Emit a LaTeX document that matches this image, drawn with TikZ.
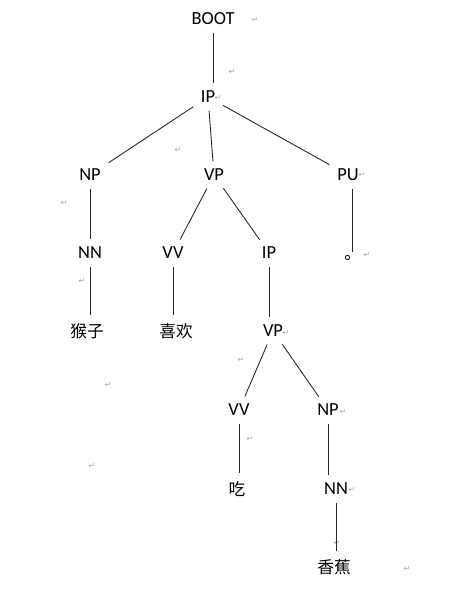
\documentclass[tikz,border=0pt]{standalone}
\usepackage{fontspec}
\setmainfont{Carlito}
\newfontfamily\cjkfont{Noto Sans CJK SC}
\newfontfamily\markfont{DejaVu Sans}
\usetikzlibrary{positioning}

\begin{document}
\begin{tikzpicture}[x=0.02cm, y=-0.02cm,
  tag/.style={font=\fontsize{10.5}{12}\selectfont, inner sep=3pt, text height=0.63em, text depth=0pt},
  word/.style={font=\cjkfont\fontsize{9.5}{11}\selectfont, inner sep=3pt},
  pmark/.style={font=\markfont\fontsize{4.5}{5}\selectfont, text=gray!70, inner sep=0pt},
  branch/.style={draw=black!85, line width=0.5pt, shorten >=1.5, shorten <=1.5},
]
  \useasboundingbox (0,0) rectangle (473,591);

  % Phrase labels
  \node[tag] (boot) at (213,19) {BOOT};
  \node[tag] (ip) at (208,97) {IP};
  \node[tag] (np) at (90,175) {NP};
  \node[tag] (vp) at (214,175) {VP};
  \node[tag] (pu) at (348,175) {PU};
  \node[tag] (nn) at (90,253) {NN};
  \node[tag] (vv) at (173,253) {VV};
  \node[tag] (ipb) at (269,253) {IP};
  \node[tag] (vpb) at (273,331) {VP};
  \node[tag] (vvb) at (239,410) {VV};
  \node[tag] (npb) at (328,410) {NP};
  \node[tag] (nnb) at (336,489) {NN};

  % Words
  \node[word] (houzi) at (87,331) {猴子};
  \node[word] (xihuan) at (176,331) {喜欢};
  \node[word, anchor=base west, inner sep=0pt] (juhao) at (344,259) {。};
  \node[word] (chi) at (237,489) {吃};
  \node[word] (xiangjiao) at (334,567) {香蕉};

  % Paragraph marks
  \foreach \x/\y [count=\i] in {255/20, 232/72, 218/98, 178/150, 362/175, 64/203, 82/281,
      367/255, 286/333, 241/360, 108/385, 250/439, 343/412, 352/490, 337/543, 407/569, 92/466}
    \node[pmark] (ret\i) at (\x,\y) {↵};

  % Branches
  \draw[branch] (boot) -- (boot |- ip.north);
  \draw[branch] (ip) -- (np);
  \draw[branch] (ip) -- (vp);
  \draw[branch] (ip) -- (pu);
  \draw[branch] (np) -- (np |- nn.north);
  \draw[branch] (nn) -- (nn |- houzi.north);
  \draw[branch] (vp) -- (vv);
  \draw[branch] (vp) -- (ipb);
  \draw[branch] (vv) -- (vv |- xihuan.north);
  \draw[branch] (juhao.north |- pu.south) -- (juhao.north);
  \draw[branch] (ipb) -- (ipb |- vpb.north);
  \draw[branch] (vpb) -- (vvb);
  \draw[branch] (vpb) -- (npb);
  \draw[branch] (vvb) -- (vvb |- chi.north);
  \draw[branch] (npb) -- (npb |- nnb.north);
  \draw[branch] (nnb) -- (nnb |- xiangjiao.north);
\end{tikzpicture}
\end{document}
